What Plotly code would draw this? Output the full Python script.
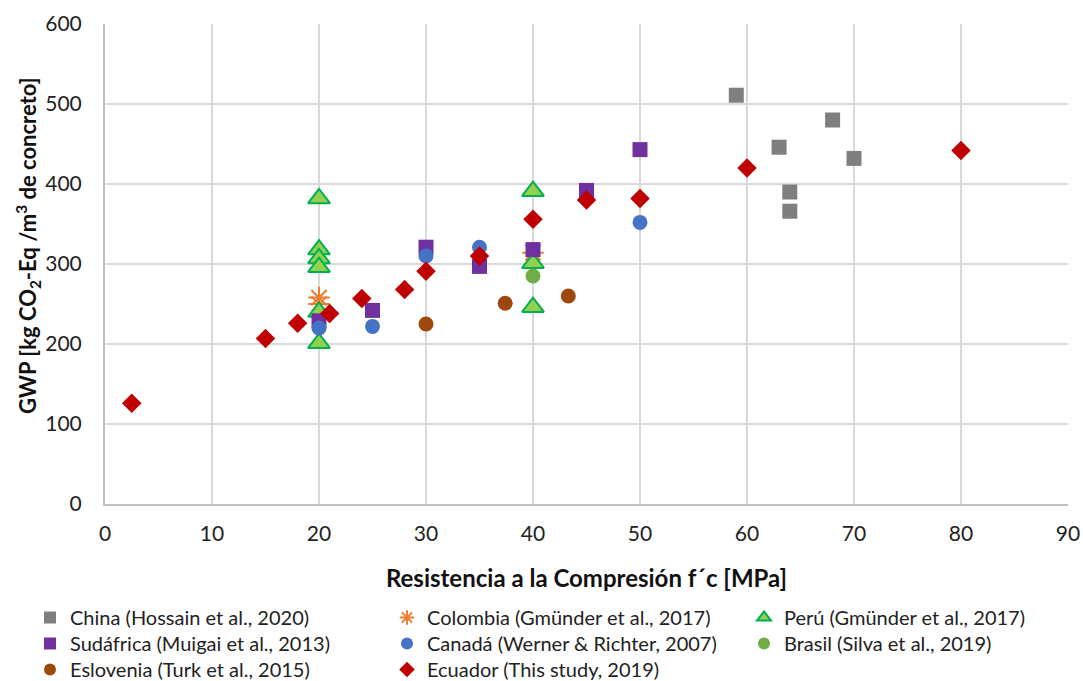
import plotly.graph_objects as go

# ---- data ----
china_x = [59, 63, 64, 64, 68, 70]
china_y = [511, 446, 390, 366, 480, 432]

colombia_x = [20, 20, 40]
colombia_y = [258, 250, 314]

peru_x = [20, 20, 20, 20, 20, 20, 40, 40, 40]
peru_y = [382, 318, 307, 296, 240, 201, 391, 301, 246]

sudafrica_x = [20, 25, 30, 35, 40, 45, 50]
sudafrica_y = [229, 242, 321, 297, 318, 392, 443]

canada_x = [20, 25, 30, 35, 50]
canada_y = [220, 222, 310, 321, 352]

brasil_x = [40]
brasil_y = [285]

eslovenia_x = [30, 37.4, 43.3]
eslovenia_y = [225, 251, 260]

ecuador_x = [2.5, 15, 18, 21, 24, 28, 30, 35, 40, 45, 50, 60, 80]
ecuador_y = [126, 207, 226, 238, 257, 268, 291, 310, 356, 380, 382, 420, 442]

FONT = "Lato"

fig = go.Figure()

# legend slot for each series: (column, row)
COL_X = [30, 387, 744]
ROW_TOP = [598, 624, 650]
legend_layout = {}
count = [1]

def add(name, x, y, symbol, color, size, col, row, line=None):
    marker = dict(symbol=symbol, color=color, size=size)
    marker["line"] = line if line else dict(width=0)
    count[0] += 1
    key = f"legend{count[0]}"
    legend_layout[key] = dict(
        orientation="v", xanchor="left", yanchor="top",
        xref="container", yref="container",
        x=COL_X[col] / 1083, y=1 - ROW_TOP[row] / 681,
        font=dict(family=FONT, size=20, color="#222"),
        bgcolor="rgba(0,0,0,0)", itemsizing="constant", visible=True)
    fig.add_trace(go.Scatter(x=x, y=y, mode="markers", name=name,
                             marker=marker, legend=key, showlegend=True))

add("China (Hossain et al., 2020)", china_x, china_y, "square", "#7f7f7f", 15, 0, 0)
add("Colombia (Gmünder et al., 2017)", colombia_x, colombia_y, "asterisk-open", "#ed7d31", 18, 1, 0,
    line=dict(color="#ed7d31", width=2))
add("Perú (Gmünder et al., 2017)", peru_x, peru_y, "triangle-up", "#92d050", 19, 2, 0,
    line=dict(color="#00b050", width=2))
add("Sudáfrica (Muigai et al., 2013)", sudafrica_x, sudafrica_y, "square", "#7030a0", 15, 0, 1)
add("Canadá (Werner & Richter, 2007)", canada_x, canada_y, "circle", "#4472c4", 15, 1, 1)
add("Brasil (Silva et al., 2019)", brasil_x, brasil_y, "circle", "#70ad47", 15, 2, 1)
add("Eslovenia (Turk et al., 2015)", eslovenia_x, eslovenia_y, "circle", "#9e480e", 15, 0, 2)
add("Ecuador (This study, 2019)", ecuador_x, ecuador_y, "diamond", "#c00000", 15, 1, 2)

fig.update_layout(
    width=1083, height=681, showlegend=True,
    margin=dict(l=105, r=15, t=24, b=177, autoexpand=False),
    plot_bgcolor="white", paper_bgcolor="white",
    font=dict(family=FONT, color="#222"),
    **legend_layout,
    xaxis=dict(range=[0, 90], dtick=10, showgrid=True, gridcolor="#d9d9d9", gridwidth=2,
               showline=True, linecolor="#bfbfbf", linewidth=2, zeroline=False,
               ticks="", ticklabelstandoff=10,
               tickfont=dict(family=FONT, size=21, color="#222"),
               title=dict(text="<b>Resistencia a la Compresión f´c [MPa]</b>",
                          font=dict(family=FONT, size=24, color="#111"), standoff=26)),
    yaxis=dict(range=[0, 600], dtick=100, showgrid=True, gridcolor="#d9d9d9", gridwidth=2,
               showline=True, linecolor="#bfbfbf", linewidth=2, zeroline=False,
               ticks="", ticklabelstandoff=17,
               tickfont=dict(family=FONT, size=21, color="#222")),
    annotations=[dict(
        text="<b>GWP [kg CO<sub>2</sub>-Eq /m<sup>3</sup> de concreto]</b>",
        xref="paper", yref="paper", x=(28 - 105) / 963, y=(504 - 246) / 480,
        xanchor="center", yanchor="middle", textangle=-90, showarrow=False,
        font=dict(family=FONT, size=22, color="#111"))],
)

fig.write_html("out.html")
